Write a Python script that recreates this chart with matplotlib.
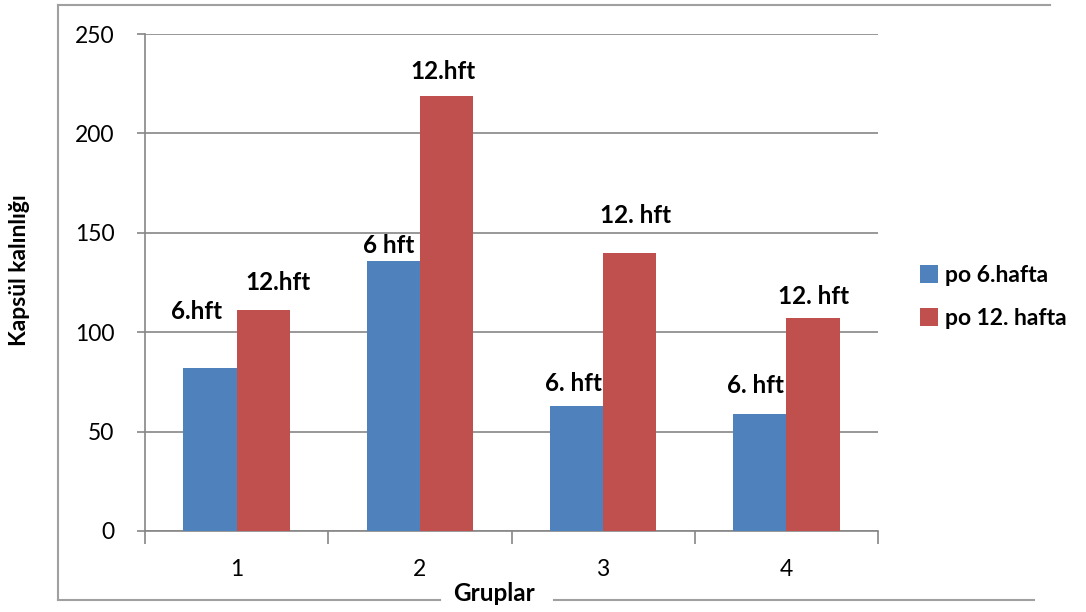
import matplotlib.pyplot as plt
from matplotlib.lines import Line2D
import numpy as np

plt.rcParams['font.family'] = ['Lato', 'DejaVu Sans']

groups = ['1', '2', '3', '4']
week6 = [82, 136, 63, 59]
week12 = [111, 219, 140, 107]
labels6 = ['6.hft', '6 hft', '6. hft', '6. hft']
labels12 = ['12.hft', '12.hft', '12. hft', '12. hft']
# hand-placed label offsets (pixels) from the top of each bar
off6 = [(-13, 56), (-5, 15), (-3, 22), (-4, 28)]
off12 = [(15, 28), (-3, 24), (6, 37), (1, 22)]

BLUE = '#4f81bd'
RED = '#c0504d'
AXIS = '#868686'

fig = plt.figure(figsize=(10.86, 6.12), dpi=100)
ax = fig.add_axes([0.1335, 0.1324, 0.675, 0.812])

x = np.arange(len(groups))
w = 0.29
b1 = ax.bar(x - w / 2, week6, w, color=BLUE, label='po 6.hafta', zorder=3)
b2 = ax.bar(x + w / 2, week12, w, color=RED, label='po 12. hafta', zorder=3)

for bars, vals, txts, offs in [(b1, week6, labels6, off6), (b2, week12, labels12, off12)]:
    for bar, v, t, o in zip(bars, vals, txts, offs):
        ax.annotate(t, xy=(bar.get_x() + bar.get_width() / 2, v), xytext=o,
                    textcoords='offset pixels', ha='center', va='center',
                    fontsize=17.5, fontweight='bold', color='black')

ax.set_xlim(-0.5, len(groups) - 0.5)
ax.set_ylim(0, 250)
ax.set_yticks(range(0, 251, 50))
ax.yaxis.grid(True, color=AXIS, linewidth=1.2, zorder=0)
ax.set_xticks(x)
ax.set_xticklabels(groups)
ax.set_xticks(np.arange(-0.5, len(groups), 1), minor=True)
ax.tick_params(axis='x', which='major', length=0, pad=20, labelsize=16.5)
ax.tick_params(axis='x', which='minor', length=9, color=AXIS, width=1.2)
ax.tick_params(axis='y', length=6, color=AXIS, width=1.2, labelsize=16.5, pad=16)

for s in ['top', 'right']:
    ax.spines[s].set_visible(False)
for s in ['left', 'bottom']:
    ax.spines[s].set_color(AXIS)
    ax.spines[s].set_linewidth(1.2)

fig.text(0.0175, 0.558, 'Kapsül kalınlığı', rotation=90, ha='center', va='center',
         fontsize=16.5, fontweight='bold')
fig.text(0.455, 0.03, 'Gruplar', ha='center', va='center',
         fontsize=17.5, fontweight='bold')

# chart border, bottom edge broken around the axis title
bc = '#a0a0a0'
fig.add_artist(Line2D([0.053, 0.053], [0.02, 0.992], color=bc, lw=1.5))
fig.add_artist(Line2D([0.053, 0.967], [0.992, 0.992], color=bc, lw=1.5))
fig.add_artist(Line2D([0.053, 0.405], [0.02, 0.02], color=bc, lw=1.5))
fig.add_artist(Line2D([0.51, 0.952], [0.02, 0.02], color=bc, lw=1.5))

fig.legend(handles=[b1, b2], loc='center left', bbox_to_anchor=(0.828, 0.515),
           frameon=False, handlelength=0.8, handleheight=0.8,
           handletextpad=0.3, labelspacing=0.95,
           prop={'size': 16.5, 'weight': 'bold'})

fig.savefig('out.png', dpi=100)
